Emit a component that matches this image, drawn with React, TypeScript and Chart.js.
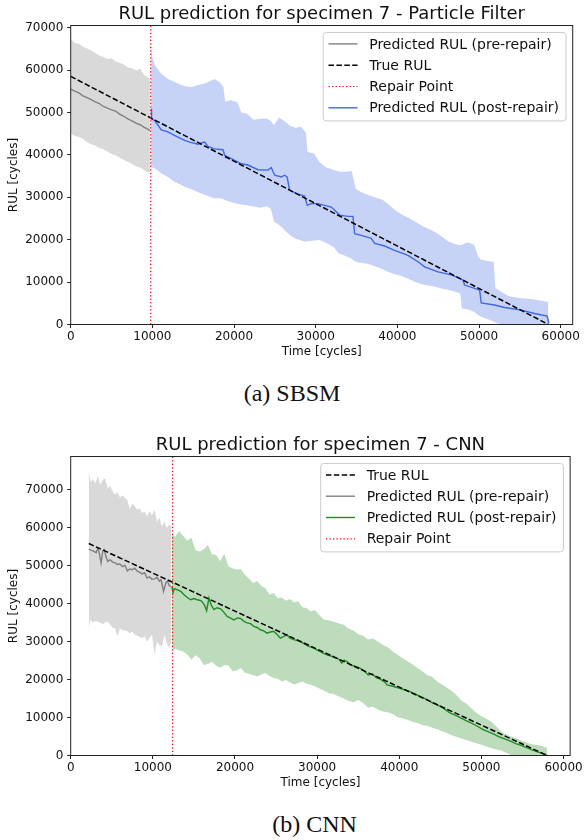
import React, { useEffect, useRef } from "react";
import { Chart, registerables } from "chart.js";

Chart.register(...registerables);

const FONT = "'DejaVu Sans', sans-serif";

// ---------------- (a) SBSM : Particle Filter ----------------
const PF_TITLE = "RUL prediction for specimen 7 - Particle Filter";
const PF_CAPTION = "(a) SBSM";
const PF_REPAIR = 9800;
const PF_X_MAX = 61470;
const PF_Y_MAX = 70500;
const PF_TRUE_T = [0, 58500];
const PF_TRUE_Y = [58500, 0];

const PF_PRE_T = [0, 500, 1000, 1500, 2000, 2500, 3000, 3500, 4000, 4500, 5000, 5500, 6000, 6500, 7000, 7500, 8000, 8500, 9000, 9500, 9700];
const PF_PRE_Y = [55500, 55000, 54600, 53900, 53500, 53000, 52500, 52100, 51400, 51000, 50600, 50300, 49600, 49100, 48500, 48000, 47500, 47100, 46500, 46000, 45700];
const PF_PRE_HI = [67300, 66400, 66200, 65500, 65100, 64600, 64000, 63400, 63100, 62600, 62800, 62000, 61700, 61300, 60600, 60400, 59900, 60300, 58800, 58200, 57700];
const PF_PRE_LO = [45000, 44500, 44200, 43800, 43000, 42500, 42200, 41600, 41300, 40800, 40200, 39900, 39300, 38800, 38300, 37900, 37300, 37000, 36400, 35800, 36000];

const PF_POST_T = [
  9870, 9900, 10280, 11100, 11900, 12700, 13950, 14570, 15590, 16000,
  16400, 16800, 17600, 18650, 18850, 19670, 20900, 21700, 22930, 24150,
  24560, 24970, 25800, 26190, 26500, 26800, 27830, 28640, 28970, 29460,
  30280, 31910, 32930, 33950, 34560, 34770, 35580, 36810, 37220, 38440,
  39660, 41300, 42520, 43340, 44970, 46600, 48030, 48230, 49460, 50070,
  50270, 51900, 53130, 55170, 56800, 58350, 58550,
];
const PF_POST_Y = [
  50900, 48500, 48100, 45900, 45400, 44600, 43400, 43000, 42500, 42800,
  43000, 42000, 41400, 41200, 39900, 39100, 37900, 37600, 36500, 36400,
  37000, 35200, 34800, 35200, 34800, 31700, 30700, 30300, 28100, 28500,
  28500, 27700, 25800, 25500, 25500, 21400, 21000, 20300, 19100, 18500,
  17500, 16300, 14800, 13600, 12400, 11700, 10500, 9300, 8500, 8100,
  5100, 4600, 4000, 3400, 2600, 2000, 300,
];

const PF_BAND_T = [
  9850, 10000, 10300, 11000, 11900, 12600, 13400, 14000, 14800, 15600,
  16400, 17200, 17600, 18200, 18700, 18900, 19600, 20400, 20900, 21600,
  22400, 23200, 24000, 24500, 24900, 25500, 26200, 26900, 27500, 28200,
  28800, 29000, 29800, 30500, 31300, 32200, 32800, 33600, 34400, 34900,
  35100, 35800, 36600, 37400, 38200, 39000, 39800, 40600, 41400, 42200,
  43000, 43800, 44600, 45400, 46200, 47000, 47700, 47900, 48600, 49400,
  49900, 50200, 51000, 51800, 52000, 52800, 53600, 54400, 55200, 56000,
  56800, 57600, 58450,
];
const PF_BAND_HI = [
  66000, 63000, 61200, 59300, 57900, 57300, 56600, 56200, 56000, 56500,
  56800, 57500, 57900, 57200, 56000, 52600, 52900, 52400, 50000, 49700,
  48300, 48500, 48600, 48000, 47000, 48800, 47900, 46800, 46400, 46600,
  45200, 40700, 40300, 38200, 37000, 36400, 36100, 36000, 36200, 32000,
  31700, 31000, 30400, 29900, 29400, 28200, 26800, 25900, 25100, 24200,
  23300, 22600, 21800, 20800, 19600, 19000, 18700, 18800, 19400, 18800,
  16000, 15300, 15000, 14800, 8600, 7600, 6700, 6400, 6200, 6100,
  5900, 5600, 5300,
];
const PF_BAND_LO = [
  37200, 37000, 36800, 35800, 34800, 33800, 33000, 32400, 31900, 31200,
  30600, 30000, 29700, 29800, 29600, 29300, 28900, 28500, 28300, 28100,
  27800, 27500, 27900, 27300, 24300, 23500, 22200, 21000, 20300, 19800,
  19500, 19600, 19800, 19900, 19200, 18300, 16800, 16200, 15500, 14800,
  14700, 14500, 14200, 13600, 13000, 12300, 11800, 11400, 10700, 10000,
  9500, 9200, 8900, 8500, 8200, 7800, 7300, 3800, 3600, 3000,
  2200, 1900, 1300, 700, 500, 0, 0, 0, 0, 0,
  0, 0, 0,
];

// ---------------- (b) CNN ----------------
const CNN_TITLE = "RUL prediction for specimen 7 - CNN";
const CNN_CAPTION = "(b) CNN";
const CNN_REPAIR = 12400;
const CNN_X_MAX = 60800;
const CNN_Y_MAX = 78700;
const CNN_TRUE_T = [2200, 58000];
const CNN_TRUE_Y = [55800, 0];

const CNN_PRE_T = [
  2200, 2500, 2800, 3100, 3300, 3500, 3700, 3900, 4100, 4300,
  4500, 4800, 5100, 5400, 5700, 6000, 6300, 6600, 6900, 7200,
  7500, 7800, 8100, 8400, 8700, 9000, 9300, 9600, 9900, 10200,
  10500, 10800, 11000, 11300, 11600, 11800, 12000, 12200,
];
const CNN_PRE_Y = [
  54300, 54000, 53800, 53400, 54600, 53000, 50700, 53800, 54200, 52300,
  51100, 51500, 50900, 50700, 50300, 50400, 49700, 50100, 48600, 49100,
  48900, 49300, 48500, 48200, 47800, 48100, 46700, 47000, 46400, 46500,
  46900, 45900, 46300, 43200, 45600, 45800, 44700, 44500,
];
const CNN_PRE_BAND_T = [
  2200, 2400, 2700, 3000, 3300, 3600, 3900, 4200, 4500, 4800,
  5100, 5400, 5700, 6000, 6300, 6600, 6900, 7200, 7500, 7800,
  8100, 8400, 8700, 9000, 9300, 9600, 9900, 10200, 10500, 10800,
  11100, 11400, 11700, 12000, 12250,
];
const CNN_PRE_HI = [
  75200, 72000, 72800, 71600, 73600, 71200, 72500, 73000, 70300, 71000,
  69600, 68600, 69300, 67900, 68500, 67800, 67200, 64800, 66300, 65600,
  64700, 65100, 63800, 64200, 63000, 64300, 63200, 64700, 61600, 62600,
  60300, 61600, 59900, 60800, 60300,
];
const CNN_PRE_LO = [
  33500, 35700, 35000, 35400, 35300, 34900, 34600, 35000, 35300, 34500,
  33600, 33500, 31300, 33500, 33000, 32900, 32700, 32200, 32600, 31800,
  31500, 31200, 30900, 31300, 30000, 31000, 31800, 26500, 30000, 29000,
  28700, 31800, 29500, 28300, 30000,
];

const CNN_POST_T = [
  12300, 12450, 12600, 13000, 13400, 13800, 14200, 14600, 15000, 15400,
  15800, 16000, 16300, 16550, 16830, 17100, 17440, 17800, 18250, 18600,
  19050, 19400, 19860, 20300, 20670, 21100, 21480, 21900, 22290, 22700,
  23090, 23500, 23900, 24300, 24710, 25100, 25520, 25900, 26320, 26700,
  27130, 27500, 27940, 28350, 28750, 29150, 29560, 29960, 30600, 31170,
  31800, 32380, 32700, 33000, 33300, 33700, 34000, 34600, 35210, 35700,
  36220, 36700, 37230, 37700, 38240, 38500, 39100, 40060, 40600, 41300,
  42070, 42800, 43400, 44090, 44800, 45400, 46110, 46800, 47400, 48130,
  48800, 49500, 50150, 50800, 51500, 52170, 52900, 53600, 54190, 54900,
  55600, 56210, 56900, 57500, 58000,
];
const CNN_POST_Y = [
  44500, 42800, 43900, 43600, 43200, 42300, 41600, 41000, 41300, 41000,
  40800, 40500, 39500, 38100, 41400, 39600, 38400, 38900, 38600, 37800,
  36600, 36200, 35700, 36200, 36100, 35300, 34900, 34700, 34000, 33700,
  33100, 32800, 32200, 32500, 32700, 31900, 30900, 31300, 31800, 30900,
  30500, 30300, 30000, 29500, 29000, 28600, 28300, 27800, 27100, 26500,
  26100, 25600, 25200, 24300, 25100, 24600, 23900, 23500, 23000, 22300,
  21200, 21500, 20400, 20100, 19300, 18600, 18300, 17700, 17300, 16800,
  16000, 15300, 14700, 13800, 13100, 12400, 11300, 10600, 10000, 9200,
  8500, 7700, 6900, 6300, 5600, 4900, 4300, 3700, 3100, 2600,
  2000, 1400, 900, 500, 0,
];

const CNN_BAND_T = [
  12300, 12700, 13200, 13700, 14200, 14700, 15200, 15700, 16200, 16700,
  17200, 17700, 18200, 18700, 19200, 19700, 20200, 20700, 21200, 21700,
  22200, 22700, 23200, 23700, 24200, 24700, 25200, 25700, 26200, 26700,
  27200, 27700, 28200, 28700, 29200, 29700, 30200, 30800, 31400, 32000,
  32600, 33200, 33800, 34400, 35000, 35600, 36200, 36800, 37400, 38000,
  38600, 39200, 39800, 40400, 41000, 41600, 42200, 42800, 43400, 44000,
  44600, 45200, 45800, 46400, 47000, 47600, 48200, 48800, 49400, 50000,
  50600, 51200, 51800, 52400, 53000, 53600, 54200, 54800, 55400, 56000,
  56600, 57200, 57800, 58000,
];
const CNN_BAND_HI = [
  58100, 57600, 59000, 57800, 56600, 57300, 54000, 53700, 54300, 55400,
  53000, 52800, 51200, 53100, 49800, 49300, 48900, 49100, 47600, 46600,
  45400, 45900, 44600, 44000, 42400, 42800, 41400, 41600, 40700, 41200,
  40300, 40600, 39000, 38800, 37900, 38300, 37100, 35800, 35600, 35200,
  34800, 34400, 33400, 32900, 31900, 31500, 30500, 30800, 30000, 29100,
  28500, 27400, 26500, 25600, 24800, 24000, 23000, 22200, 21200, 20700,
  19500, 18700, 17800, 17000, 15800, 14400, 13600, 12400, 11200, 10300,
  9700, 8900, 7700, 6300, 5600, 5000, 4600, 4000, 3500, 3000,
  2800, 2600, 2200, 1900,
];
const CNN_BAND_LO = [
  28300, 28000, 27700, 27400, 26600, 25200, 26400, 25600, 23800, 24100,
  24700, 23600, 23100, 23800, 23700, 22200, 22400, 23000, 21800, 21500,
  21200, 20800, 21300, 21700, 20900, 20400, 20200, 19500, 19900, 19200,
  18700, 19100, 19500, 18900, 18600, 18200, 17700, 17100, 16400, 16200,
  15600, 15100, 14400, 14000, 14600, 13800, 12600, 12800, 12100, 11600,
  11400, 10900, 10100, 9800, 9400, 8900, 8500, 8000, 7800, 7300,
  6900, 6400, 5900, 5300, 4900, 4400, 4100, 3600, 3200, 2800,
  2400, 2000, 1600, 1300, 700, 100, 0, 0, 0, 0,
  0, 0, 0, 0,
];

// ---------------- shared ----------------
const X_TICKS = [0, 10000, 20000, 30000, 40000, 50000, 60000];
const Y_TICKS = [0, 10000, 20000, 30000, 40000, 50000, 60000, 70000];

const L_TRUE = "True RUL";
const L_PRE = "Predicted RUL (pre-repair)";
const L_POST = "Predicted RUL (post-repair)";
const L_REPAIR = "Repair Point";
const PF_LEGEND = [L_PRE, L_TRUE, L_REPAIR, L_POST];
const CNN_LEGEND = [L_TRUE, L_PRE, L_POST, L_REPAIR];

const pts = (t: number[], y: number[]) => t.map((x, i) => ({ x, y: y[i] }));

const CANVAS_W = 584;
const CANVAS_H = 362;
const PLOT_TOP = 25.5;
const PLOT_LEFT = 70.7;
const PLOT_RIGHT_PAD = 11.3;
const X_AXIS_H = CANVAS_H - 324.5;

type Spec = {
  title: string;
  repair: number;
  xMax: number;
  yMax: number;
  trueT: number[]; trueY: number[];
  preT: number[]; preY: number[];
  preBandT: number[]; preHi: number[]; preLo: number[];
  postT: number[]; postY: number[];
  postBandT: number[]; postHi: number[]; postLo: number[];
  postColor: string; postFill: string;
  legend: string[];
};

function makeConfig(s: Spec): any {
  const decor = {
    id: "decor",
    afterDraw(chart: any) {
      const { ctx, chartArea: a } = chart;
      ctx.save();
      // frame
      ctx.strokeStyle = "#222";
      ctx.lineWidth = 1;
      ctx.setLineDash([]);
      ctx.strokeRect(a.left, a.top, a.right - a.left, a.bottom - a.top);
      // title
      ctx.fillStyle = "#111";
      ctx.font = `18px ${FONT}`;
      ctx.textAlign = "center";
      ctx.textBaseline = "middle";
      ctx.fillText(s.title, (a.left + a.right) / 2, a.top - 11.5);
      // legend
      const items = s.legend
        .map((lab) => chart.data.datasets.find((d: any) => d.label === lab))
        .filter(Boolean);
      ctx.font = `14px ${FONT}`;
      const maxW = Math.max(...items.map((d: any) => ctx.measureText(d.label).width));
      const w = 46 + maxW + 7;
      const h = 88.4;
      const x = a.right - 6.7 - w;
      const y = a.top + 7;
      ctx.beginPath();
      ctx.roundRect(x, y, w, h, 3);
      ctx.fillStyle = "rgba(255,255,255,0.8)";
      ctx.fill();
      ctx.strokeStyle = "#cccccc";
      ctx.lineWidth = 1;
      ctx.stroke();
      items.forEach((d: any, i: number) => {
        const ry = y + 11.4 + i * 21.3;
        ctx.beginPath();
        ctx.setLineDash(d.borderDash || []);
        ctx.strokeStyle = d.borderColor;
        ctx.lineWidth = d.borderWidth;
        ctx.moveTo(x + 5.3, ry);
        ctx.lineTo(x + 34.3, ry);
        ctx.stroke();
        ctx.setLineDash([]);
        ctx.fillStyle = "#111";
        ctx.textAlign = "left";
        ctx.textBaseline = "middle";
        ctx.fillText(d.label, x + 46, ry + 1);
      });
      ctx.restore();
    },
  };

  const line = (label: string, data: any[], color: string, width: number, dash: number[] = []) => ({
    label,
    data,
    borderColor: color,
    borderWidth: width,
    borderDash: dash,
    pointRadius: 0,
    tension: 0,
    fill: false,
  });
  const bandHi = (data: any[], color: string) => ({
    label: "_band_hi",
    data,
    borderWidth: 0,
    borderColor: "rgba(0,0,0,0)",
    backgroundColor: color,
    pointRadius: 0,
    tension: 0,
    fill: "+1",
  });
  const bandLo = (data: any[]) => ({
    label: "_band_lo",
    data,
    borderWidth: 0,
    borderColor: "rgba(0,0,0,0)",
    pointRadius: 0,
    tension: 0,
    fill: false,
  });

  const tickFont = { family: FONT, size: 12 };
  return {
    type: "line",
    data: {
      datasets: [
        line(L_REPAIR, [{ x: s.repair, y: 0 }, { x: s.repair, y: s.yMax }], "#ff0000", 1.2, [1.3, 2.2]),
        line(L_TRUE, pts(s.trueT, s.trueY), "#000000", 1.5, [5.5, 2.4]),
        line(L_POST, pts(s.postT, s.postY), s.postColor, 1.4),
        line(L_PRE, pts(s.preT, s.preY), "#808080", 1.4),
        bandHi(pts(s.postBandT, s.postHi), s.postFill),
        bandLo(pts(s.postBandT, s.postLo)),
        bandHi(pts(s.preBandT, s.preHi), "rgba(128,128,128,0.3)"),
        bandLo(pts(s.preBandT, s.preLo)),
      ],
    },
    options: {
      animation: false,
      responsive: false,
      events: [],
      layout: { padding: { top: PLOT_TOP, right: PLOT_RIGHT_PAD, left: 0, bottom: 0 } },
      plugins: { legend: { display: false }, tooltip: { enabled: false }, title: { display: false } },
      scales: {
        x: {
          type: "linear",
          min: 0,
          max: s.xMax,
          afterFit: (sc: any) => { sc.height = X_AXIS_H; },
          afterBuildTicks: (sc: any) => { sc.ticks = X_TICKS.map((v) => ({ value: v })); },
          ticks: { callback: (v: any) => String(v), font: tickFont, color: "#111", padding: 1.2, maxRotation: 0, autoSkip: false },
          grid: { drawOnChartArea: false, drawTicks: true, tickLength: 3.5, color: "#222", lineWidth: 1 },
          border: { display: false },
          title: { display: true, text: "Time [cycles]", font: tickFont, color: "#111", padding: { top: 0, bottom: 3.1 } },
        },
        y: {
          type: "linear",
          min: 0,
          max: s.yMax,
          afterFit: (sc: any) => { sc.width = PLOT_LEFT; },
          afterBuildTicks: (sc: any) => { sc.ticks = Y_TICKS.map((v) => ({ value: v })); },
          ticks: { callback: (v: any) => String(v), font: tickFont, color: "#111", padding: 3.9, autoSkip: false },
          grid: { drawOnChartArea: false, drawTicks: true, tickLength: 3.5, color: "#222", lineWidth: 1 },
          border: { display: false },
          title: { display: true, text: "RUL [cycles]", font: tickFont, color: "#111", padding: { top: 6.8, bottom: 0 } },
        },
      },
    },
    plugins: [decor],
  };
}

const PF_SPEC: Spec = {
  title: PF_TITLE, repair: PF_REPAIR, xMax: PF_X_MAX, yMax: PF_Y_MAX,
  trueT: PF_TRUE_T, trueY: PF_TRUE_Y,
  preT: PF_PRE_T, preY: PF_PRE_Y,
  preBandT: PF_PRE_T, preHi: PF_PRE_HI, preLo: PF_PRE_LO,
  postT: PF_POST_T, postY: PF_POST_Y,
  postBandT: PF_BAND_T, postHi: PF_BAND_HI, postLo: PF_BAND_LO,
  postColor: "#4169e1", postFill: "rgba(65,105,225,0.3)",
  legend: PF_LEGEND,
};

const CNN_SPEC: Spec = {
  title: CNN_TITLE, repair: CNN_REPAIR, xMax: CNN_X_MAX, yMax: CNN_Y_MAX,
  trueT: CNN_TRUE_T, trueY: CNN_TRUE_Y,
  preT: CNN_PRE_T, preY: CNN_PRE_Y,
  preBandT: CNN_PRE_BAND_T, preHi: CNN_PRE_HI, preLo: CNN_PRE_LO,
  postT: CNN_POST_T, postY: CNN_POST_Y,
  postBandT: CNN_BAND_T, postHi: CNN_BAND_HI, postLo: CNN_BAND_LO,
  postColor: "#228b22", postFill: "rgba(34,139,34,0.3)",
  legend: CNN_LEGEND,
};

function RulChart({ spec, top }: { spec: Spec; top: number }) {
  const ref = useRef<HTMLCanvasElement>(null);
  useEffect(() => {
    const chart = new Chart(ref.current as HTMLCanvasElement, makeConfig(spec));
    return () => chart.destroy();
  }, [spec]);
  return (
    <canvas
      ref={ref}
      width={CANVAS_W}
      height={CANVAS_H}
      style={{ position: "absolute", left: 0, top, width: CANVAS_W, height: CANVAS_H }}
    />
  );
}

function Caption({ text, cx, cy }: { text: string; cx: number; cy: number }) {
  return (
    <div
      style={{
        position: "absolute",
        left: cx - 150,
        top: cy - 15,
        width: 300,
        height: 30,
        lineHeight: "30px",
        textAlign: "center",
        fontFamily: "'Liberation Serif', 'Times New Roman', serif",
        fontSize: 24,
        color: "#111",
        whiteSpace: "nowrap",
      }}
    >
      {text}
    </div>
  );
}

export default function App() {
  return (
    <div style={{ position: "absolute", left: 0, top: 0, width: 584, height: 840, background: "#fff", overflow: "hidden" }}>
      <RulChart spec={PF_SPEC} top={0} />
      <Caption text={PF_CAPTION} cx={292} cy={393} />
      <RulChart spec={CNN_SPEC} top={431} />
      <Caption text={CNN_CAPTION} cx={314.5} cy={824} />
    </div>
  );
}
